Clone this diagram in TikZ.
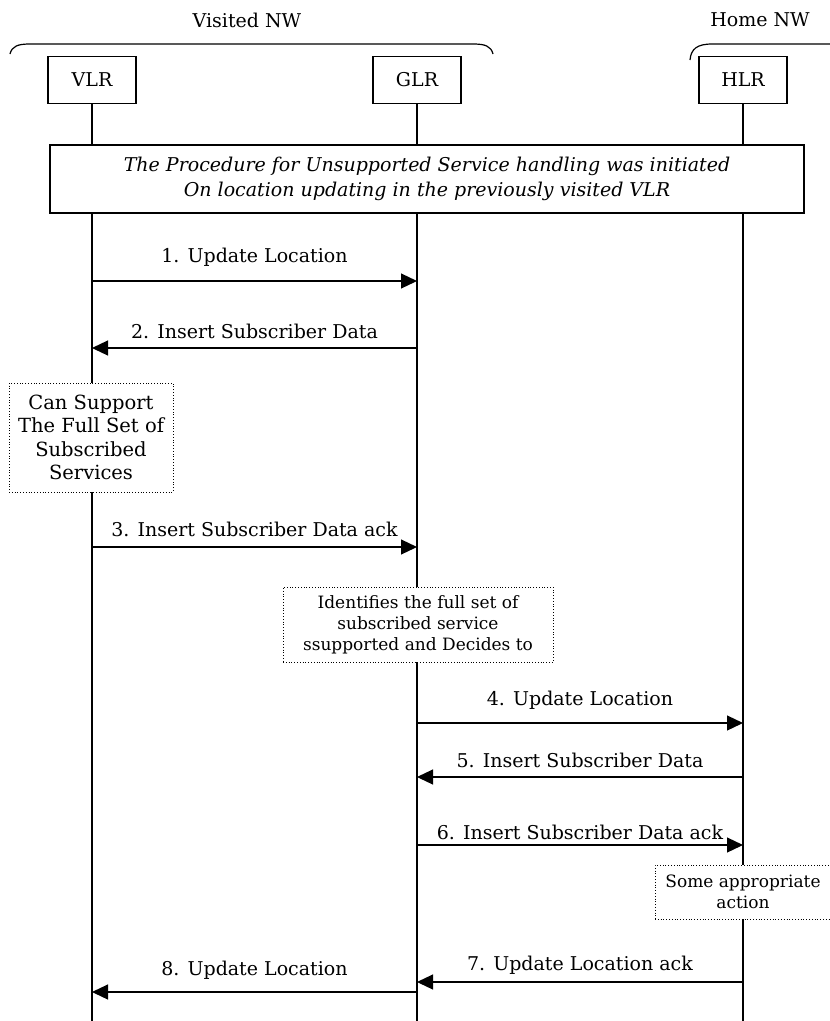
\documentclass[tikz,border=0pt]{standalone}
\usepackage{fontspec}
\setmainfont{DejaVu Serif}
\usetikzlibrary{arrows.meta,positioning}

\begin{document}
\begin{tikzpicture}[x=1pt, y=-1pt, node distance=325pt, line width=1.2pt,
  font=\fontsize{19}{23}\selectfont,
  msg/.style={-{Triangle[length=16pt,width=15pt]}},
  notebox/.style={rectangle, draw, dotted, line width=0.8pt, fill=white, align=center, font=\fontsize{17}{21}\selectfont}]
\useasboundingbox (0,0) rectangle (830,1021);

% networks
\node (visited) at (247,20) {Visited NW};
\node (home) at (760,20) {Home NW};
\draw (10,54) .. controls (12,46) and (18,44) .. (30,44) -- (473,44) .. controls (485,44) and (491,46) .. (493,54);
\draw (690,60) .. controls (691,49) and (697,44) .. (712,44) -- (840,44);

% entities
\node (VLR) [rectangle, draw, minimum width=88pt, minimum height=47pt] at (92,80) {VLR};
\node (GLR) [rectangle, draw, minimum width=88pt, minimum height=47pt, right of=VLR] {GLR};
\node (HLR) [rectangle, draw, minimum width=88pt, minimum height=47pt, right of=GLR, xshift=1pt] {HLR};

\coordinate (VLRend) at (92,1021);
\coordinate (GLRend) at (417,1021);
\coordinate (HLRend) at (743,1021);
\draw (VLR) -- (VLRend);
\draw (GLR) -- (GLRend);
\draw (HLR) -- (HLRend);

\node (proc) [rectangle, draw, fill=white, minimum width=754pt, minimum height=68pt, align=center,
  font=\fontsize{19}{25}\selectfont\itshape] at (427,179)
  {The Procedure for Unsupported Service handling was initiated\\On location updating in the previously visited VLR};

% messages
\draw [msg] (VLR |- 0,281) -- node[above=11pt] {1. Update Location} (GLR |- 0,281);
\draw [msg] (GLR |- 0,348) -- node[above=5pt] {2. Insert Subscriber Data} (VLR |- 0,348);
\node (vlrnote) [notebox, minimum width=164pt, minimum height=109pt, font=\fontsize{19.5}{23.5}\selectfont] at (91,437.5) {Can Support\\The Full Set of\\Subscribed\\Services};
\draw [msg] (VLR |- 0,547) -- node[above=6pt] {3. Insert Subscriber Data ack} (GLR |- 0,547);
\node (glrnote) [notebox, minimum width=270pt, minimum height=75pt] at (418,624.5) {Identifies the full set of\\subscribed service\\ssupported and Decides to};
\draw [msg] (GLR |- 0,723) -- node[above=10pt] {4. Update Location} (HLR |- 0,723);
\draw [msg] (HLR |- 0,777) -- node[above=5pt] {5. Insert Subscriber Data} (GLR |- 0,777);
\draw [msg] (GLR |- 0,845) -- node[above=1pt] {6. Insert Subscriber Data ack} (HLR |- 0,845);
\node (hlrnote) [notebox, minimum width=176pt, minimum height=54pt] at (743,892) {Some appropriate\\action};
\draw [msg] (HLR |- 0,982) -- node[above=4pt] {7. Update Location ack} (GLR |- 0,982);
\draw [msg] (GLR |- 0,992) -- node[above=9pt] {8. Update Location} (VLR |- 0,992);
\end{tikzpicture}
\end{document}
